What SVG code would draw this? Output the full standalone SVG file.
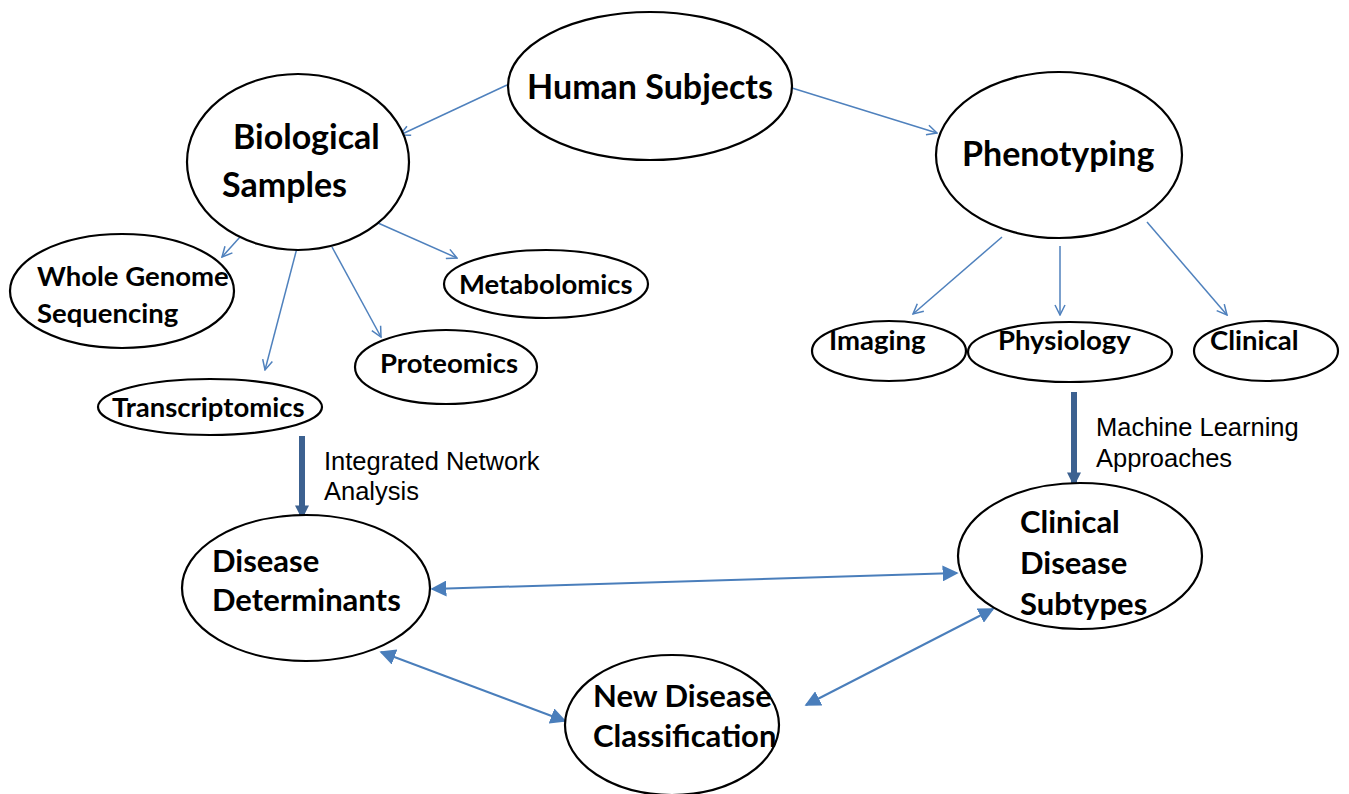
<svg xmlns="http://www.w3.org/2000/svg" width="1349" height="794" viewBox="0 0 1349 794">
<style>
.n ellipse{fill:#fff;stroke:#000;stroke-width:2.2}
.b{font-family:Lato,"Open Sans","Liberation Sans",sans-serif;font-weight:bold;fill:#000}
.s{font-size:27.5px}
.m{font-size:31px}
.g{font-size:34px}
.l{font-family:"Liberation Sans",Arial,sans-serif;font-size:25.5px;fill:#000}
.t{stroke:#4F81BD;stroke-width:1.5;fill:none}
.k{stroke:#3C6190;stroke-width:6;fill:none}
.d{stroke:#4A7EBB;stroke-width:2;fill:none}
</style>
<defs>
<marker id="open" viewBox="0 0 12 12" refX="11" refY="6" markerWidth="12" markerHeight="12" markerUnits="userSpaceOnUse" orient="auto">
<path d="M1,1 L11,6 L1,11" fill="none" stroke="#4F81BD" stroke-width="1.5"/>
</marker>
<marker id="thick" viewBox="0 0 10 10" refX="9" refY="5" markerWidth="14" markerHeight="14" markerUnits="userSpaceOnUse" orient="auto">
<path d="M0,0 L10,5 L0,10 z" fill="#3C6190"/>
</marker>
<marker id="tri" viewBox="0 0 10 10" refX="9" refY="5" markerWidth="16" markerHeight="16" markerUnits="userSpaceOnUse" orient="auto-start-reverse">
<path d="M0,0 L10,5 L0,10 z" fill="#4A7EBB"/>
</marker>
</defs>
<g id="connectors">
<line class="t" x1="507" y1="85" x2="400" y2="135" marker-end="url(#open)"/>
<line class="t" x1="792" y1="88" x2="937" y2="133" marker-end="url(#open)"/>
<line class="t" x1="240" y1="237" x2="222" y2="257" marker-end="url(#open)"/>
<line class="t" x1="297" y1="248" x2="265" y2="370" marker-end="url(#open)"/>
<line class="t" x1="332" y1="247" x2="381" y2="337" marker-end="url(#open)"/>
<line class="t" x1="378" y1="223" x2="457" y2="258" marker-end="url(#open)"/>
<line class="t" x1="1002" y1="237" x2="913" y2="314" marker-end="url(#open)"/>
<line class="t" x1="1060" y1="246" x2="1060" y2="315" marker-end="url(#open)"/>
<line class="t" x1="1147" y1="222" x2="1227" y2="315" marker-end="url(#open)"/>
<line class="k" x1="302" y1="436" x2="302" y2="518" marker-end="url(#thick)"/>
<line class="k" x1="1074" y1="392" x2="1074" y2="485" marker-end="url(#thick)"/>
<line class="d" x1="432" y1="589" x2="957" y2="573" marker-start="url(#tri)" marker-end="url(#tri)"/>
<line class="d" x1="381" y1="652" x2="565" y2="721" marker-start="url(#tri)" marker-end="url(#tri)"/>
<line class="d" x1="806" y1="705" x2="993" y2="609" marker-start="url(#tri)" marker-end="url(#tri)"/>
<text class="l" x="324" y="470">Integrated Network</text>
<text class="l" x="324" y="500">Analysis</text>
<text class="l" x="1096" y="436">Machine Learning</text>
<text class="l" x="1096" y="467">Approaches</text>
</g>
<g id="human-subjects" class="n">
<ellipse cx="650" cy="86" rx="142" ry="74"/>
<text class="b g" x="650" y="99" text-anchor="middle">Human Subjects</text>
</g>
<g id="biological-samples" class="n">
<ellipse cx="298" cy="162" rx="111" ry="88"/>
<text class="b g" x="233" y="149">Biological</text>
<text class="b g" x="222" y="197">Samples</text>
</g>
<g id="phenotyping" class="n">
<ellipse cx="1059" cy="155" rx="123" ry="83"/>
<text class="b g" x="962" y="166">Phenotyping</text>
</g>
<g id="whole-genome" class="n">
<ellipse cx="122" cy="291" rx="112" ry="57"/>
<text class="b s" x="37" y="286">Whole Genome</text>
<text class="b s" x="37" y="323">Sequencing</text>
</g>
<g id="metabolomics" class="n">
<ellipse cx="546" cy="284" rx="102" ry="34"/>
<text class="b s" x="459" y="294">Metabolomics</text>
</g>
<g id="proteomics" class="n">
<ellipse cx="446" cy="367" rx="91" ry="37"/>
<text class="b s" x="380" y="373">Proteomics</text>
</g>
<g id="transcriptomics" class="n">
<ellipse cx="210" cy="407" rx="112" ry="28"/>
<text class="b s" x="112" y="417">Transcriptomics</text>
</g>
<g id="imaging" class="n">
<ellipse cx="889" cy="351" rx="77" ry="30"/>
<text class="b s" x="829" y="350">Imaging</text>
</g>
<g id="physiology" class="n">
<ellipse cx="1070" cy="352" rx="102" ry="30"/>
<text class="b s" x="998" y="350">Physiology</text>
</g>
<g id="clinical" class="n">
<ellipse cx="1266" cy="351" rx="72" ry="30"/>
<text class="b s" x="1210" y="350">Clinical</text>
</g>
<g id="disease-determinants" class="n">
<ellipse cx="306" cy="588" rx="124" ry="73"/>
<text class="b m" x="212" y="572">Disease</text>
<text class="b m" x="212" y="611">Determinants</text>
</g>
<g id="clinical-disease-subtypes" class="n">
<ellipse cx="1080" cy="556" rx="122" ry="73"/>
<text class="b m" x="1020" y="533">Clinical</text>
<text class="b m" x="1020" y="574">Disease</text>
<text class="b m" x="1020" y="615">Subtypes</text>
</g>
<g id="new-disease-classification" class="n">
<ellipse cx="672" cy="725" rx="107" ry="70"/>
<text class="b m" x="593" y="707">New Disease</text>
<text class="b m" x="593" y="747">Classification</text>
</g>
</svg>
